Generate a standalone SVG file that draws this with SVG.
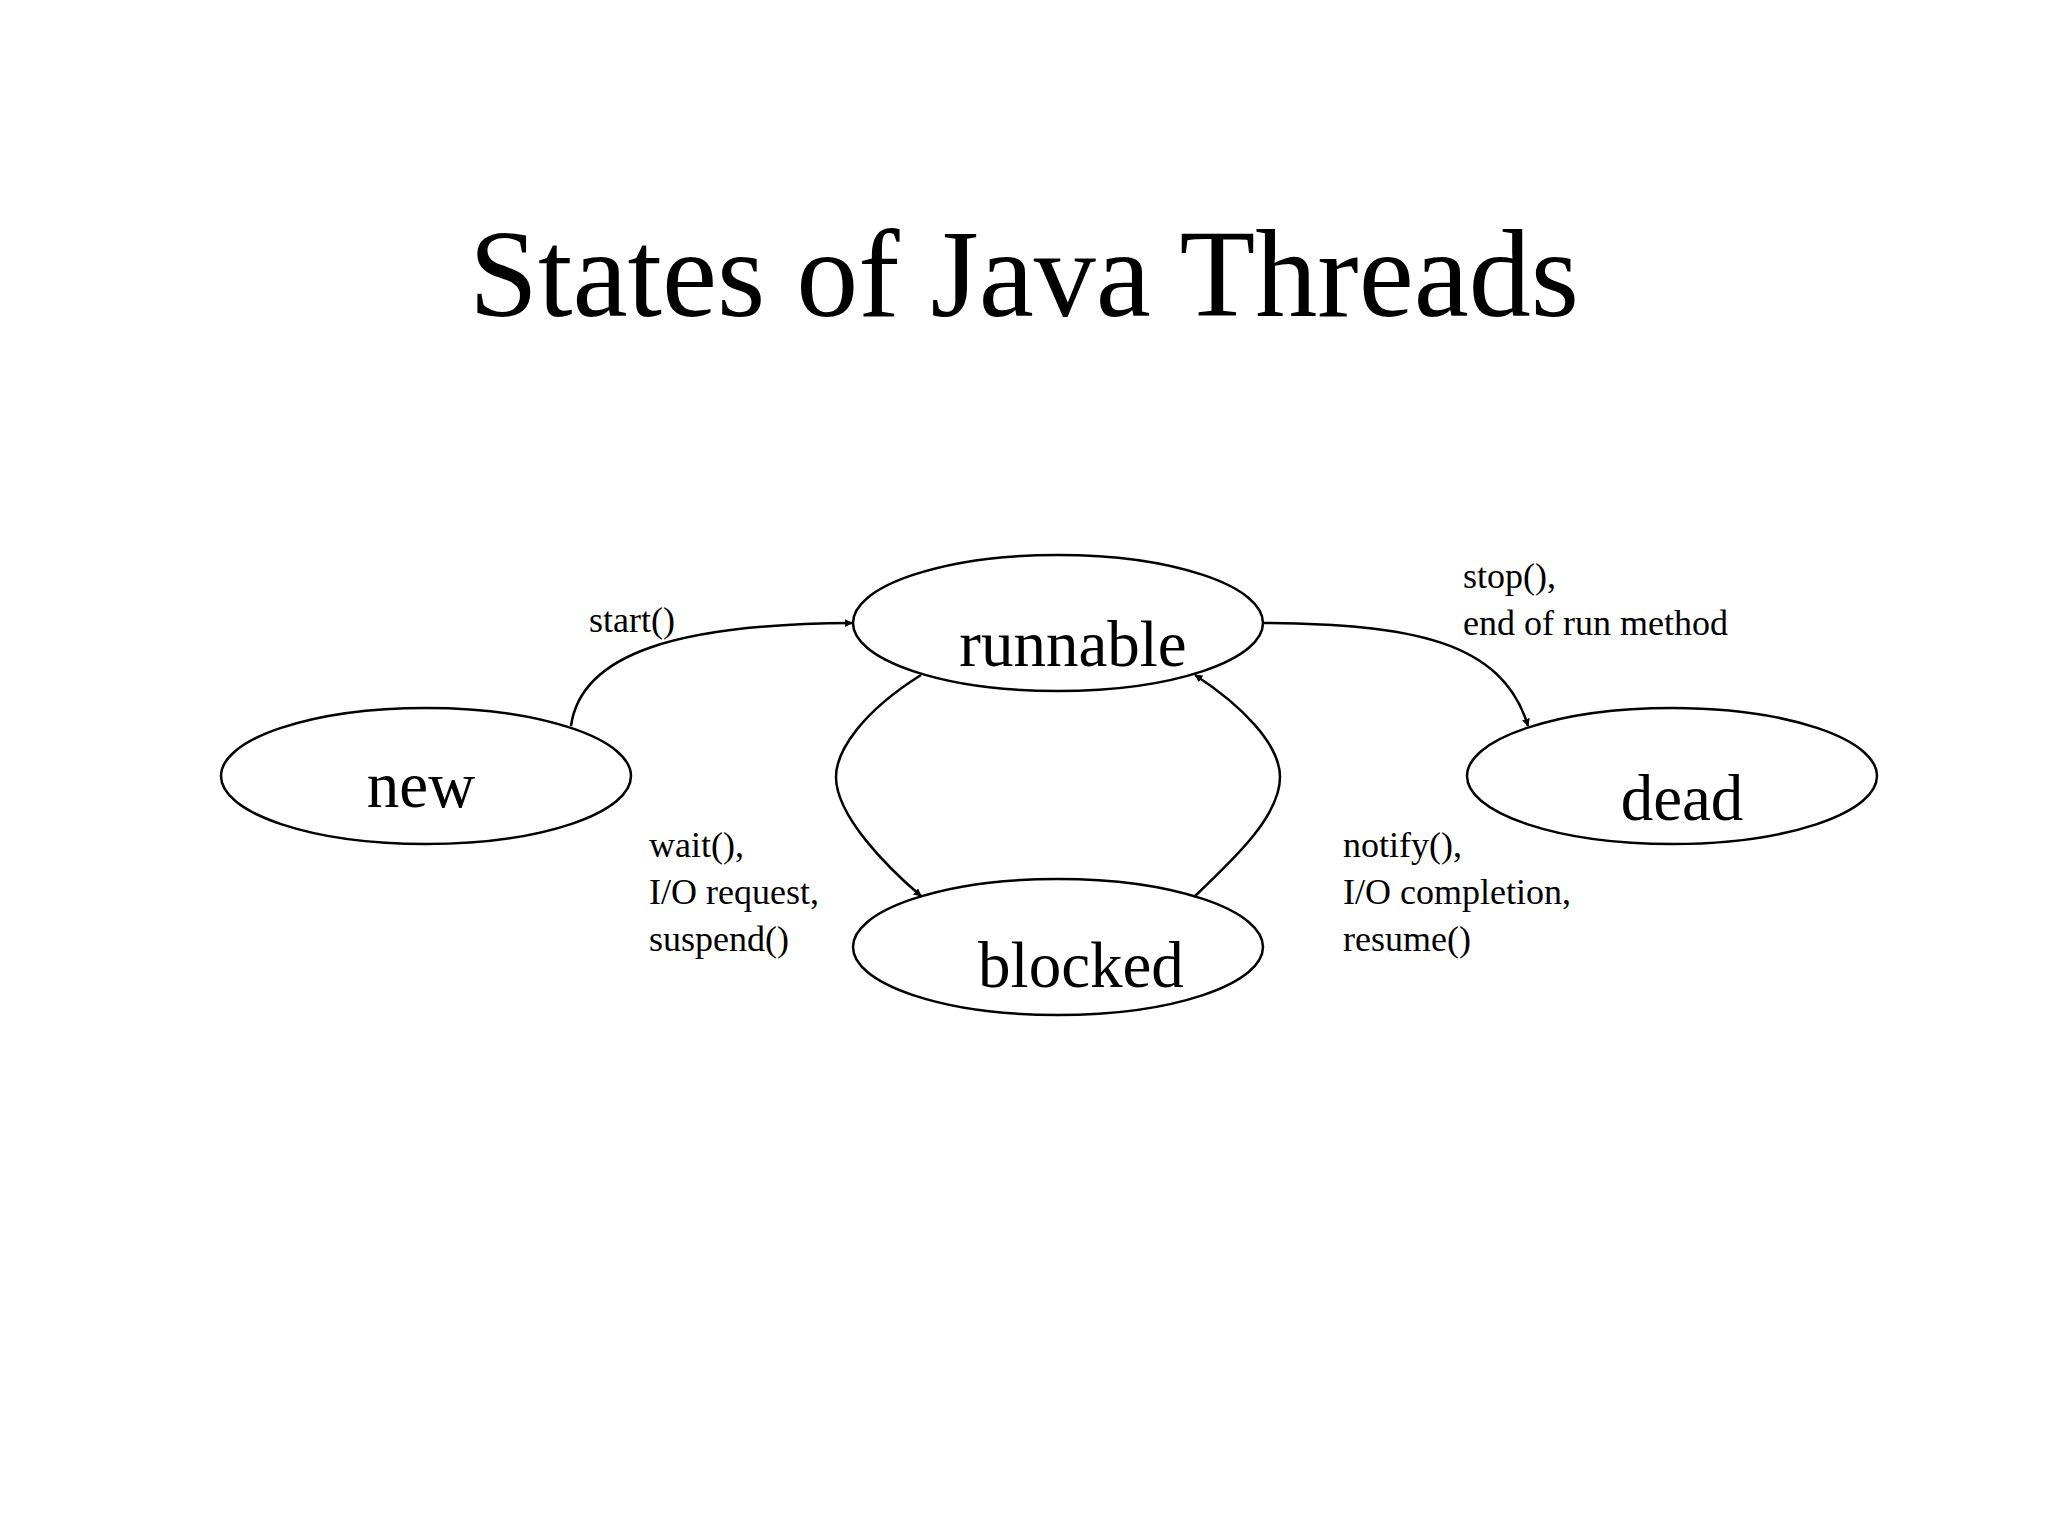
<svg xmlns="http://www.w3.org/2000/svg" width="2048" height="1536" viewBox="0 0 2048 1536">
<style>
.n{fill:#fff;stroke:#000;stroke-width:2.5}
.t{font-family:"Liberation Serif",serif;fill:#000}
.e{fill:none;stroke:#000;stroke-width:2.5;marker-end:url(#a)}
</style>
<defs><marker id="a" viewBox="0 0 10 10" refX="9" refY="5" markerWidth="8" markerHeight="8" orient="auto" markerUnits="userSpaceOnUse"><path d="M0,0L10,5L0,10z"/></marker></defs>
<rect width="2048" height="1536" fill="#fff"/>
<text class="t" x="1024" y="316" font-size="124" text-anchor="middle">States of Java Threads</text>
<g id="runnable"><ellipse class="n" cx="1058" cy="623" rx="205" ry="68"/><text class="t" x="1073" y="666" font-size="65" text-anchor="middle">runnable</text></g>
<g id="new"><ellipse class="n" cx="426" cy="776" rx="205" ry="68"/><text class="t" x="421" y="807" font-size="65" text-anchor="middle">new</text></g>
<g id="dead"><ellipse class="n" cx="1672" cy="776" rx="205" ry="68"/><text class="t" x="1682" y="820" font-size="65" text-anchor="middle">dead</text></g>
<g id="blocked"><ellipse class="n" cx="1058" cy="947" rx="205" ry="68"/><text class="t" x="1081" y="987" font-size="65" text-anchor="middle">blocked</text></g>
<g id="connectors">
<path class="e" d="M571,726 C581,653 679,624 852,623"/>
<path class="e" d="M1263,623 C1410,624 1502,640 1528,726"/>
<path class="e" d="M921,675 C862,712 836,751 836,777 C836,816 888,868 921,896"/>
<path class="e" d="M1195,896 C1234,859 1280,816 1280,777 C1280,744 1241,705 1195,675"/>
</g>
<g class="t" font-size="36">
<text x="589" y="632">start()</text>
<text x="1463" y="588">stop(),</text>
<text x="1463" y="635">end of run method</text>
<text x="649" y="857">wait(),</text>
<text x="649" y="904">I/O request,</text>
<text x="649" y="951">suspend()</text>
<text x="1343" y="857">notify(),</text>
<text x="1343" y="904">I/O completion,</text>
<text x="1343" y="951">resume()</text>
</g>
</svg>
